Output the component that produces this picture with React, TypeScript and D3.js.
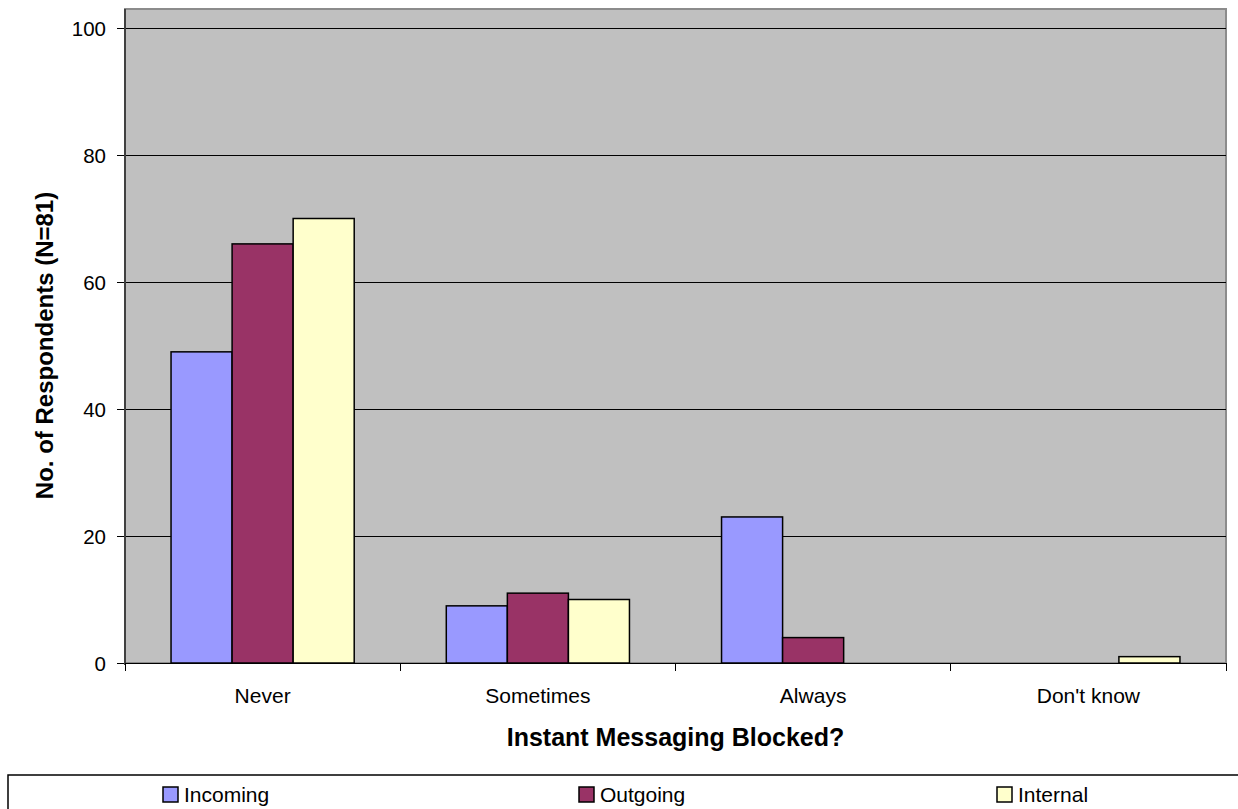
import React from "react";
import * as d3 from "d3";

const categories = ["Never", "Sometimes", "Always", "Don't know"];
const seriesNames = ["Incoming", "Outgoing", "Internal"];
const incoming = [49, 9, 23, 0];
const outgoing = [66, 11, 4, 0];
const internal = [70, 10, 0, 1];
const seriesValues = [incoming, outgoing, internal];
const seriesColors = ["#9999ff", "#993366", "#ffffcc"];
const yTicks = [0, 20, 40, 60, 80, 100];

const W = 1238;
const H = 809;
const plotLeft = 125;
const plotRight = 1226;
const plotTop = 9;
const yTop = 28;
const yBottom = 663;
const font = "'Liberation Sans', Arial, sans-serif";

export default function App() {
  const x = d3.scaleBand<string>().domain(categories).range([plotLeft, plotRight]).paddingInner(0).paddingOuter(0);
  const groupFrac = 183 / 275;
  const inner = d3
    .scaleBand<string>()
    .domain(seriesNames)
    .range([0, x.bandwidth() * groupFrac])
    .padding(0);
  const groupOffset = (x.bandwidth() * (1 - groupFrac)) / 2;
  const y = d3.scaleLinear().domain([0, 100]).range([yBottom, yTop]);

  const legendSquareX = [163, 579, 997];

  return (
    <svg width={W} height={H} style={{ position: "absolute", left: 0, top: 0, display: "block" }}>
      <rect x={0} y={0} width={W} height={H} fill="#ffffff" />
      <rect x={plotLeft} y={plotTop} width={plotRight - plotLeft} height={yBottom - plotTop} fill="#c0c0c0" stroke="#8c8c8c" strokeWidth={2} />
      {yTicks.map((t) => (
        <g key={t}>
          {t > 0 && (
            <line x1={plotLeft} x2={plotRight} y1={y(t)} y2={y(t)} stroke="#000" strokeWidth={1} shapeRendering="crispEdges" />
          )}
          <line x1={plotLeft - 8} x2={plotLeft} y1={y(t)} y2={y(t)} stroke="#000" strokeWidth={1} shapeRendering="crispEdges" />
          <text x={106} y={y(t) + 7.5} textAnchor="end" fontFamily={font} fontSize={20.5} fill="#000">
            {t}
          </text>
        </g>
      ))}
      {categories.map((c, ci) => (
        <g key={c}>
          {seriesNames.map((s, si) => {
            const v = seriesValues[si][ci];
            if (v <= 0) return null;
            const bx = (x(c) as number) + groupOffset + (inner(s) as number);
            return (
              <rect
                key={s}
                x={bx}
                y={y(v)}
                width={inner.bandwidth()}
                height={y(0) - y(v)}
                fill={seriesColors[si]}
                stroke="#000"
                strokeWidth={1.5}
              />
            );
          })}
          <text
            x={(x(c) as number) + x.bandwidth() / 2}
            y={703}
            textAnchor="middle"
            fontFamily={font}
            fontSize={21}
            fill="#000"
          >
            {c}
          </text>
        </g>
      ))}
      <line x1={plotLeft} x2={plotLeft} y1={plotTop} y2={yBottom + 2} stroke="#404040" strokeWidth={2} />
      <line x1={plotLeft} x2={plotRight} y1={yBottom} y2={yBottom} stroke="#000" strokeWidth={1} shapeRendering="crispEdges" />
      {categories.concat([""]).map((_, i) => {
        const xx = plotLeft + i * x.bandwidth();
        return (
          <line key={i} x1={xx} x2={xx} y1={yBottom} y2={yBottom + 8} stroke="#000" strokeWidth={1} shapeRendering="crispEdges" />
        );
      })}
      <text x={675.5} y={746} textAnchor="middle" fontFamily={font} fontSize={25} fontWeight="bold" fill="#000">
        Instant Messaging Blocked?
      </text>
      <text
        transform={`translate(53, ${(yTop + yBottom) / 2}) rotate(-90)`}
        textAnchor="middle"
        fontFamily={font}
        fontSize={24}
        fontWeight="bold"
        fill="#000"
      >
        No. of Respondents (N=81)
      </text>
      <rect x={8} y={775} width={W + 10} height={50} fill="none" stroke="#000" strokeWidth={1.5} />
      {seriesNames.map((s, i) => (
        <g key={s}>
          <rect x={legendSquareX[i]} y={787} width={15} height={15} fill={seriesColors[i]} stroke="#000" strokeWidth={1.5} />
          <text x={legendSquareX[i] + 21} y={802} fontFamily={font} fontSize={21} fill="#000">
            {s}
          </text>
        </g>
      ))}
    </svg>
  );
}
